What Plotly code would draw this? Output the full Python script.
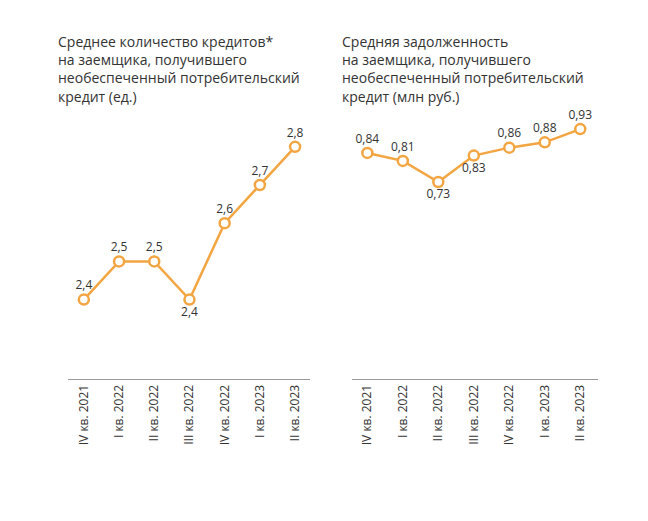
import plotly.graph_objects as go
from plotly.subplots import make_subplots

quarters = ["IV кв. 2021", "I кв. 2022", "II кв. 2022", "III кв. 2022", "IV кв. 2022", "I кв. 2023", "II кв. 2023"]
loans = [2.4, 2.5, 2.5, 2.4, 2.6, 2.7, 2.8]
loan_labels = ["2,4", "2,5", "2,5", "2,4", "2,6", "2,7", "2,8"]
debt = [0.84, 0.81, 0.73, 0.83, 0.86, 0.88, 0.93]
debt_labels = ["0,84", "0,81", "0,73", "0,83", "0,86", "0,88", "0,93"]
loan_pos = ["top center", "top center", "top center", "bottom center", "top center", "top center", "top center"]
debt_pos = ["top center", "top center", "bottom center", "bottom center", "top center", "top center", "top center"]

color = "#F2A541"
fig = make_subplots(rows=1, cols=2, horizontal_spacing=0.08)
for col, vals, labs, pos in [(1, loans, loan_labels, loan_pos), (2, debt, debt_labels, debt_pos)]:
    fig.add_trace(go.Scatter(x=quarters, y=vals, mode="lines+markers+text", text=labs,
                             textposition=pos, textfont=dict(size=12, color="#333333"),
                             line=dict(color=color, width=2.5),
                             marker=dict(size=10, color="white", line=dict(color=color, width=2.5)),
                             cliponaxis=False, showlegend=False), row=1, col=col)

fig.update_layout(width=648, height=521, margin=dict(l=60, r=58, t=93, b=150),
                  plot_bgcolor="white", paper_bgcolor="white",
                  font=dict(family="Open Sans, sans-serif", color="#333333"))
fig.update_xaxes(tickangle=-90, showline=True, linecolor="#999999", linewidth=1,
                 ticks="", showgrid=False, tickfont=dict(size=12, color="#333333"))
fig.update_xaxes(domain=[0, 0.457], range=[-0.45, 6.43], row=1, col=1)
fig.update_xaxes(domain=[0.536, 1], range=[-0.43, 6.5], row=1, col=2)
fig.update_yaxes(visible=False, showgrid=False)
fig.update_yaxes(range=[2.192, 2.92], row=1, col=1)
fig.update_yaxes(range=[-0.013, 1.036], row=1, col=2)

fig.add_annotation(x=-0.0226, y=1.255, xref="paper", yref="paper", xanchor="left", yanchor="top",
                   align="left", showarrow=False, font=dict(size=14, color="#333333"),
                   text="Среднее количество кредитов*<br>на заемщика, получившего<br>необеспеченный потребительский<br>кредит (ед.)")
fig.add_annotation(x=0.513, y=1.255, xref="paper", yref="paper", xanchor="left", yanchor="top",
                   align="left", showarrow=False, font=dict(size=14, color="#333333"),
                   text="Средняя задолженность<br>на заемщика, получившего<br>необеспеченный потребительский<br>кредит (млн руб.)")
fig.write_html("out.html")
